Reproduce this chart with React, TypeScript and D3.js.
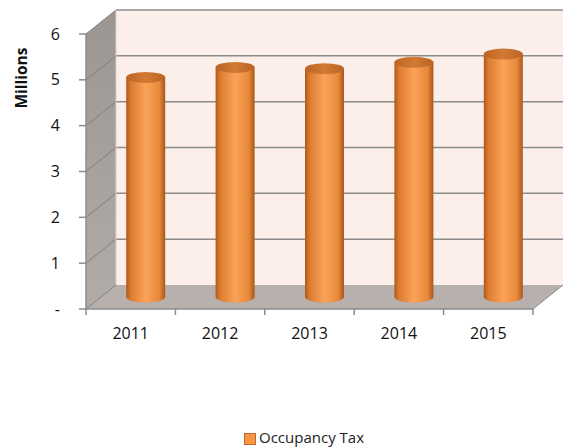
import React from 'react';
import { scaleLinear, scaleBand, range } from 'd3';

const years = ['2011', '2012', '2013', '2014', '2015'];
const occupancyTax = [4.79, 5.01, 4.98, 5.12, 5.3];
const yTicks = [0, 1, 2, 3, 4, 5, 6];
const yTickLabels = ['-', '1', '2', '3', '4', '5', '6'];

const FONT = '"Open Sans", "Liberation Sans", sans-serif';

export default function App() {
  const width = 563;
  const height = 448;

  // plot frame (front plane)
  const x0 = 86;
  const x1 = 533;
  const yBottom = 309;
  const yTop = 34;
  // 3D depth offsets
  const dx = 30;
  const dy = -24;

  const x = scaleBand<string>().domain(years).range([x0, x1]);
  const y = scaleLinear().domain([0, 6]).range([yBottom, yTop]);

  const rx = 19.5;
  const ry = 5.5;

  return (
    <svg width={width} height={height} style={{ position: 'absolute', left: 0, top: 0 }}>
      <defs>
        <linearGradient id="body" x1="0" x2="1" y1="0" y2="0">
          <stop offset="0" stopColor="#b0581a" />
          <stop offset="0.12" stopColor="#dc7c30" />
          <stop offset="0.5" stopColor="#fba25a" />
          <stop offset="0.85" stopColor="#e8893a" />
          <stop offset="1" stopColor="#a9561b" />
        </linearGradient>
        <linearGradient id="top" x1="0" x2="1" y1="0" y2="0">
          <stop offset="0" stopColor="#bb6424" />
          <stop offset="0.5" stopColor="#d27b34" />
          <stop offset="1" stopColor="#bb6424" />
        </linearGradient>
        <linearGradient id="leftWall" x1="0" x2="0" y1="0" y2="1">
          <stop offset="0" stopColor="#9c9693" />
          <stop offset="1" stopColor="#b2aca8" />
        </linearGradient>
      </defs>
      <rect width={width} height={height} fill="#fff" />

      {/* back wall */}
      <rect x={x0 + dx} y={yTop + dy} width={width - x0 - dx} height={yBottom - yTop} fill="#fcefe9" />
      {/* left wall */}
      <path
        d={`M${x0},${yTop} L${x0 + dx},${yTop + dy} L${x0 + dx},${yBottom + dy} L${x0},${yBottom} Z`}
        fill="url(#leftWall)"
      />
      {/* floor */}
      <path
        d={`M${x0},${yBottom} L${x0 + dx},${yBottom + dy} L${x1 + dx},${yBottom + dy} L${x1},${yBottom} Z`}
        fill="#b7b0ac"
      />

      {/* gridlines */}
      {yTicks.map((t) => (
        <g key={t}>
          <line x1={x0} y1={y(t)} x2={x0 + dx} y2={y(t) + dy} stroke="#7f7f7f" strokeWidth={1} />
          {t > 0 && (
            <line x1={x0 + dx} y1={y(t) + dy} x2={width} y2={y(t) + dy} stroke="#8c8c8c" strokeWidth={1.5} />
          )}
        </g>
      ))}
      <line x1={x0 + dx} y1={yTop + dy} x2={x0 + dx} y2={yBottom + dy} stroke="#d8d0cc" strokeWidth={1} />
      <line x1={x1} y1={yBottom} x2={x1 + dx} y2={yBottom + dy} stroke="#8c8c8c" strokeWidth={1} />

      {/* axes */}
      <line x1={x0} y1={yTop} x2={x0} y2={yBottom} stroke="#8c8c8c" strokeWidth={1.5} />
      <line x1={x0} y1={yBottom} x2={x1} y2={yBottom} stroke="#8c8c8c" strokeWidth={1.5} />
      {yTicks.map((t, i) => (
        <g key={t}>
          <line x1={x0 - 7} y1={y(t)} x2={x0} y2={y(t)} stroke="#8c8c8c" strokeWidth={1.5} />
          <text x={60} y={y(t)} dy="0.35em" textAnchor="end" fontFamily={FONT} fontSize={16} fill="#111">
            {yTickLabels[i]}
          </text>
        </g>
      ))}
      {range(years.length + 1).map((i) => {
        const xp = i < years.length ? (x(years[i]) as number) : x1;
        return <line key={i} x1={xp} y1={yBottom} x2={xp} y2={yBottom + 6} stroke="#8c8c8c" strokeWidth={1.5} />;
      })}
      {years.map((yr) => (
        <text
          key={yr}
          x={(x(yr) as number) + x.bandwidth() / 2}
          y={333}
          dy="0.35em"
          textAnchor="middle"
          fontFamily={FONT}
          fontSize={16}
          fill="#111"
        >
          {yr}
        </text>
      ))}

      {/* cylinders */}
      {years.map((yr, i) => {
        const cx = (x(yr) as number) + x.bandwidth() / 2 + dx / 2;
        const base = y(0) + dy / 2;
        const top = y(occupancyTax[i]) + dy / 2;
        return (
          <g key={yr}>
            <path
              d={`M${cx - rx},${top} L${cx - rx},${base} A${rx},${ry} 0 0 0 ${cx + rx},${base} L${cx + rx},${top} Z`}
              fill="url(#body)"
            />
            <ellipse cx={cx} cy={top} rx={rx} ry={ry} fill="url(#top)" />
          </g>
        );
      })}

      {/* y axis title */}
      <text
        transform={`translate(27,78) rotate(-90)`}
        textAnchor="middle"
        fontFamily={FONT}
        fontSize={15.5}
        fontWeight="bold"
        fill="#111"
      >
        Millions
      </text>

      {/* legend */}
      <rect x={244.5} y={433.5} width={11} height={11} fill="#f79646" stroke="#c0692a" strokeWidth={1} />
      <text x={259} y={437.5} dy="0.35em" fontFamily={FONT} fontSize={15} fill="#222">
        Occupancy Tax
      </text>
    </svg>
  );
}
